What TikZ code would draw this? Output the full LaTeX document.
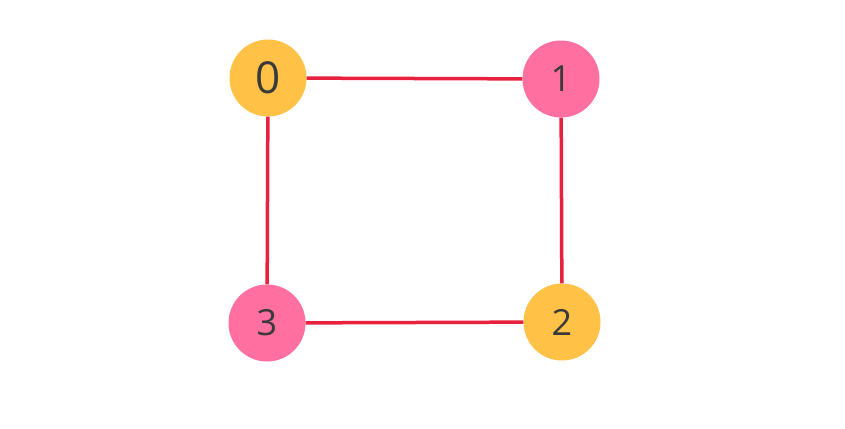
\documentclass[tikz,border=0pt]{standalone}
\usepackage{fontspec}
\setmainfont{Open Sans}
\definecolor{vorange}{HTML}{FFC247}
\definecolor{vpink}{HTML}{FF6FA0}
\definecolor{edgered}{HTML}{E8213F}
\definecolor{digit}{HTML}{3A3A3A}
\begin{document}
\begin{tikzpicture}[x=1pt,y=-1pt,vtx/.style={circle,fill=#1,minimum size=77pt,inner sep=0pt,text=digit,font=\fontsize{36}{36}\selectfont},edge/.style={edgered,line width=3.5pt}]
\useasboundingbox (0,0) rectangle (845,428);
\foreach \n/\x/\y/\c in %
{1/561/79/vpink,2/562/322/vorange,3/267/323/vpink} {
   \node[vtx=\c] (n\n) at (\x,\y) {\n};
}
\node[vtx=vorange,font=\fontsize{44}{44}\selectfont] (n0) at (268,78) {0};
\draw[edge] (n0) -- (n1);
\draw[edge] (n1) -- (n2);
\draw[edge] (n2) -- (n3);
\draw[edge] (n3) -- (n0);
\end{tikzpicture}
\end{document}
